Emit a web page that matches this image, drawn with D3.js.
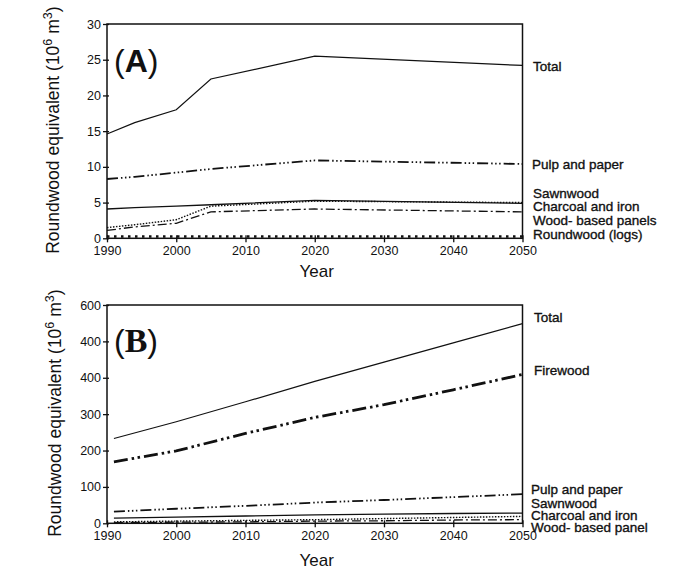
<!DOCTYPE html>
<html>
<head>
<meta charset="utf-8">
<script src="https://cdn.jsdelivr.net/npm/d3@7"></script>
<style>
  body { margin: 0; background: #fff; }
  text { font-family: "Liberation Sans", Arial, sans-serif; fill: #111; }
</style>
</head>
<body>
<svg id="chart" width="677" height="573"></svg>
<script>
// ----------------------------
// Data
// ----------------------------
const yearTicks = [1990, 2000, 2010, 2020, 2030, 2040, 2050];

// Panel A
const yearsA = [1990, 1994, 2000, 2005, 2020, 2050];
const totalA = [14.6, 16.2, 18.0, 22.3, 25.5, 24.2];
const pulpA = [8.3, 8.6, 9.2, 9.7, 10.9, 10.4];
const sawnA = [4.1, 4.3, 4.5, 4.7, 5.3, 4.9];
const charcoalA = [1.5, 1.9, 2.6, 4.5, 5.2, 5.0];
const panelsA = [1.1, 1.6, 2.1, 3.7, 4.1, 3.7];
const logsA = [0.25, 0.25, 0.25, 0.25, 0.25, 0.25];
const namesA = ["Total", "Pulp and paper", "Sawnwood", "Charcoal and iron", "Wood- based panels", "Roundwood (logs)"];
const yTicksA = [0, 5, 10, 15, 20, 25, 30];
const yTickLabelsA = ["0", "5", "10", "15", "20", "25", "30"];

// Panel B
const yearsB = [1991, 2000, 2010, 2020, 2030, 2040, 2050];
const totalB = [233, 279, 334, 390, 443, 496, 549];
const firewoodB = [169, 199, 247, 291, 326, 367, 409];
const pulpB = [32, 40, 48, 57, 64, 72, 80];
const sawnB = [14, 17, 20, 23, 25, 27, 28];
const charcoalB = [4, 6, 8, 10, 13, 16, 19];
const panelsB = [2, 3, 4, 6, 7, 9, 10];
const namesB = ["Total", "Firewood", "Pulp and paper", "Sawnwood", "Charcoal and iron", "Wood- based panel"];
const yTicksB = [0, 100, 200, 300, 400, 500, 600];
const yTickLabelsB = ["0", "100", "200", "300", "400", "400", "600"];

// ----------------------------
// Line styles
// ----------------------------
const STYLE = {
  total:    { w: 1.2, dash: null },
  pulp:     { w: 1.8, dash: "11,3,1.5,2.5,1.5,2.5,1.5,3" },
  sawn:     { w: 1.3, dash: null },
  charcoal: { w: 1.4, dash: "1.5,1.5" },
  panels:   { w: 1.3, dash: "9,3,2,3" },
  logs:     { w: 2.6, dash: "2.5,4.5" },
  firewood: { w: 2.8, dash: "14,4,2.5,3.5,2.5,4" }
};

const svg = d3.select("#chart");
const x = d3.scaleLinear().domain([1990, 2050]).range([107, 522.5]);

function drawPanel(opt) {
  const g = svg.append("g");
  const y = opt.y;
  const [y0, y1] = y.range();

  // frame
  g.append("rect")
    .attr("x", x.range()[0]).attr("y", y1)
    .attr("width", x.range()[1] - x.range()[0]).attr("height", y0 - y1)
    .attr("fill", "none").attr("stroke", "#111").attr("stroke-width", 1.5);

  // axes (ticks cross the frame line)
  const xa = g.append("g")
    .attr("transform", `translate(0,${y0})`)
    .call(d3.axisBottom(x).tickValues(yearTicks).tickFormat(d3.format("d")).tickSize(4).tickPadding(4));
  xa.selectAll(".tick line").attr("y1", -3);
  const ya = g.append("g")
    .attr("transform", `translate(${x.range()[0]},0)`)
    .call(d3.axisLeft(y).tickValues(opt.yTicks).tickFormat((d, i) => opt.yTickLabels[i]).tickSize(4).tickPadding(2));
  ya.selectAll(".tick line").attr("x1", 2);
  [xa, ya].forEach(a => {
    a.select(".domain").remove();
    a.selectAll("line").attr("stroke", "#111").attr("stroke-width", 1.3);
    a.selectAll("text").attr("font-size", 12.5).attr("fill", "#111")
      .attr("font-family", "'Liberation Sans', Arial, sans-serif");
  });

  // series
  const line = years => d3.line().x((d, i) => x(years[i])).y(d => y(d));
  opt.series.forEach(s => {
    const st = STYLE[s.style];
    g.append("path")
      .datum(s.values)
      .attr("fill", "none")
      .attr("stroke", "#111")
      .attr("stroke-width", st.w)
      .attr("stroke-dasharray", st.dash)
      .attr("d", line(opt.years));
  });

  // labels on the right
  opt.names.forEach((n, i) => {
    g.append("text")
      .attr("x", opt.labelX[i]).attr("y", opt.labelY[i])
      .attr("dominant-baseline", "middle")
      .attr("font-size", 13.5)
      .attr("stroke", "#111").attr("stroke-width", 0.35)
      .text(n);
  });

  // panel letter
  const t = g.append("text").attr("x", 114).attr("y", opt.letterY).attr("font-size", 32);
  t.append("tspan").text("(");
  t.append("tspan").attr("font-weight", "bold")
    .attr("font-family", opt.letterFont).attr("font-size", opt.letterSize).text(opt.letter);
  t.append("tspan").text(")");

  // axis titles
  g.append("text")
    .attr("x", (x.range()[0] + x.range()[1]) / 2 + 2).attr("y", opt.yearY)
    .attr("text-anchor", "middle").attr("font-size", 17).text("Year");

  const yt = g.append("text")
    .attr("transform", `translate(${opt.titleX},${(y0 + y1) / 2 - 1}) rotate(-90)`)
    .attr("text-anchor", "middle").attr("font-size", 17.5);
  yt.append("tspan").text("Roundwood equivalent (10");
  yt.append("tspan").attr("font-size", 12.5).attr("dy", -7).text("6");
  yt.append("tspan").attr("dy", 7).text(" m");
  yt.append("tspan").attr("font-size", 12.5).attr("dy", -7).text("3");
  yt.append("tspan").attr("dy", 7).text(")");
}

drawPanel({
  y: d3.scaleLinear().domain([0, 30]).range([238.3, 24]),
  years: yearsA,
  series: [
    { values: totalA, style: "total" },
    { values: pulpA, style: "pulp" },
    { values: sawnA, style: "sawn" },
    { values: charcoalA, style: "charcoal" },
    { values: panelsA, style: "panels" },
    { values: logsA, style: "logs" }
  ],
  names: namesA,
  labelX: [533, 532, 533, 533, 533, 533],
  labelY: [67, 165.5, 194, 207.5, 221, 235],
  yTicks: yTicksA, yTickLabels: yTickLabelsA,
  letter: "A", letterFont: "'Liberation Sans', Arial, sans-serif", letterSize: 32, letterY: 71.5,
  yearY: 277, titleX: 59
});

drawPanel({
  y: d3.scaleLinear().domain([0, 600]).range([523.3, 305]),
  years: yearsB,
  series: [
    { values: totalB, style: "total" },
    { values: firewoodB, style: "firewood" },
    { values: pulpB, style: "pulp" },
    { values: sawnB, style: "sawn" },
    { values: charcoalB, style: "charcoal" },
    { values: panelsB, style: "panels" }
  ],
  names: namesB,
  labelX: [534, 534, 531, 531, 531, 531],
  labelY: [318.5, 371, 490, 504, 516, 528.5],
  yTicks: yTicksB, yTickLabels: yTickLabelsB,
  letter: "B", letterFont: "'Liberation Serif', serif", letterSize: 34, letterY: 352,
  yearY: 566, titleX: 61
});
</script>
</body>
</html>
